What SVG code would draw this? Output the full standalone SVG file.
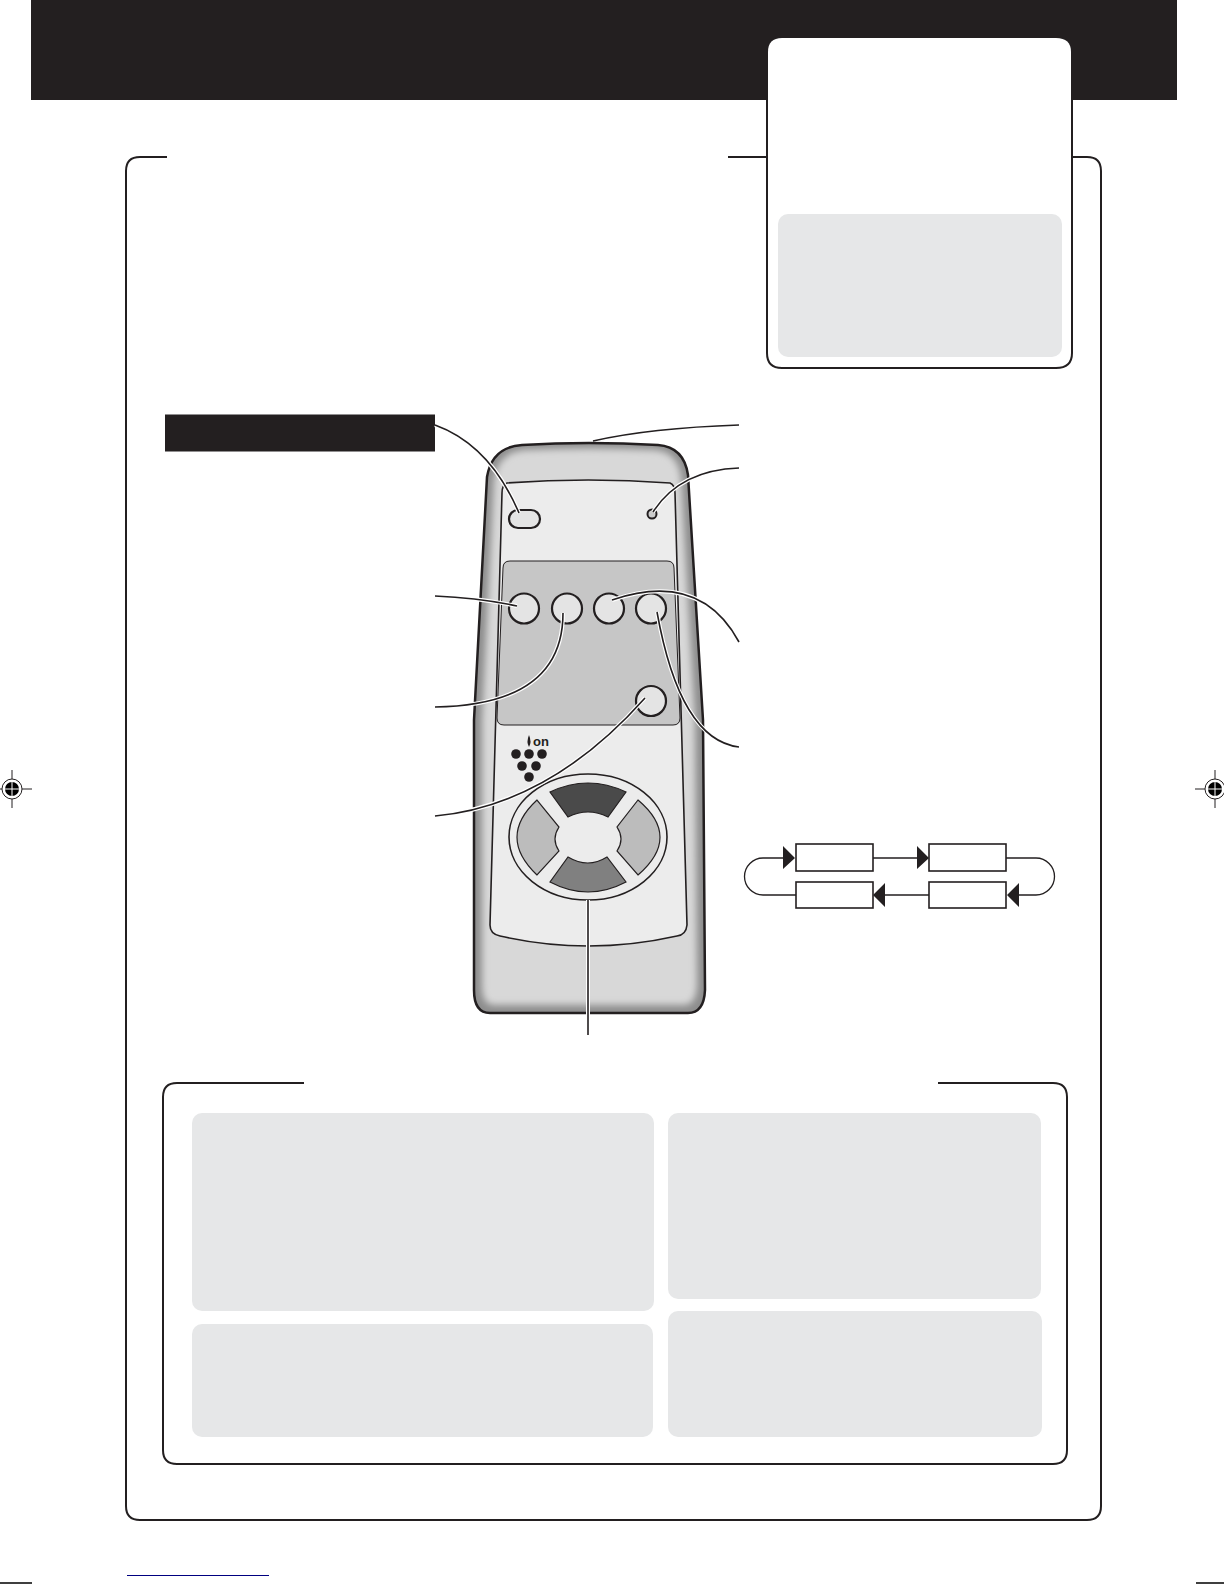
<svg xmlns="http://www.w3.org/2000/svg" width="1224" height="1584" viewBox="0 0 1224 1584">
<style>
.frame{fill:none;stroke:#231f20;stroke-width:2}
.panel{fill:#e6e7e8}
.leadw{fill:none;stroke:#fff;stroke-width:4}
.lead{fill:none;stroke:#231f20;stroke-width:1.6}
.btn{fill:#e4e4e4;stroke:#231f20;stroke-width:2.2}
.btns{fill:none;stroke:#8a8a8a;stroke-width:2}
.box{fill:#fff;stroke:#231f20;stroke-width:1.6}
.ln{fill:none;stroke:#231f20;stroke-width:1.3}
.arr{fill:#231f20}
.dot{fill:#231f20}
</style>
<defs>
<filter id="soft" x="-10%" y="-10%" width="120%" height="120%"><feGaussianBlur stdDeviation="3.500"/></filter>
<clipPath id="bodyclip"><path d="M474 720L487 477Q492 447 522 445Q588 441 658 445Q684 447 688 475L703 720L705 990Q704 1013 688 1013H490Q474 1013 474 990Z"/></clipPath>
<g id="reg"><circle r="10" fill="#fff" stroke="#231f20" stroke-width="1"/><circle r="7" fill="#000"/><path d="M-7 0H7M0-7V7" stroke="#fff" stroke-width="1"/></g>
</defs>
<rect width="1224" height="1584" fill="#fff"/>
<g id="header"><rect x="31" y="0" width="1146" height="100" fill="#231f20"/></g>
<g id="main-frame"><path class="frame" d="M167 157H140Q126 157 126 171V1506Q126 1520 140 1520H1087Q1101 1520 1101 1506V171Q1101 157 1087 157H1073M767 157H728"/></g>
<g id="note-box"><path d="M768 52Q768 38 782 38H1056Q1071 38 1071 52V100H768Z" fill="#fff"/><path d="M767 100V353Q767 368 782 368H1056Q1072 368 1072 353V100" fill="#fff" stroke="#231f20" stroke-width="2"/><rect class="panel" x="778" y="214" width="284" height="143" rx="10"/></g>
<g id="black-label"><rect x="165" y="414.500" width="270" height="37" fill="#231f20"/></g>
<g id="remote">
<path d="M474 720L487 477Q492 447 522 445Q588 441 658 445Q684 447 688 475L703 720L705 990Q704 1013 688 1013H490Q474 1013 474 990Z" fill="#8d8d8d"/>
<g clip-path="url(#bodyclip)"><path d="M482 720L494 480Q498 452 525 450Q588 447 655 450Q678 452 681 478L695 720L697 985Q696 1005 684 1005H494Q482 1005 482 985Z" fill="#d8d8d8" filter="url(#soft)"/></g>
<path d="M474 720L487 477Q492 447 522 445Q588 441 658 445Q684 447 688 475L703 720L705 990Q704 1013 688 1013H490Q474 1013 474 990Z" fill="none" stroke="#231f20" stroke-width="2.5"/>
<path d="M507 483Q588 477 670 483Q675 485 675 493L687 925Q686 935 677 936Q588 956 500 936Q490 934 490 925L502 493Q502 485 507 483Z" fill="#ececec" stroke="#231f20" stroke-width="1.6"/>
<rect x="509" y="510" width="31" height="18" rx="9" class="btn"/>
<circle cx="652" cy="514" r="4.500" fill="#ccc" stroke="#231f20" stroke-width="2"/>
<path d="M510 561H667Q674 561 674 568L680 718Q680 725 673 725H504Q497 725 497 718L503 568Q503 561 510 561Z" fill="#c6c6c6" stroke="#231f20" stroke-width="1"/>
<circle class="btn" cx="524" cy="608.500" r="15"/><circle class="btn" cx="567" cy="608.500" r="15"/><circle class="btn" cx="609" cy="608.500" r="15"/><circle class="btn" cx="651" cy="608.500" r="15"/><circle class="btn" cx="651" cy="701" r="15"/>
<path class="dot" d="M529 735Q532 742 529 747Q526 742 529 735Z"/>
<text x="533" y="746" font-family="Liberation Sans, sans-serif" font-size="13" font-weight="bold" fill="#231f20">on</text>
<circle class="dot" cx="516" cy="754" r="4.800"/><circle class="dot" cx="529" cy="754" r="4.800"/><circle class="dot" cx="542" cy="754" r="4.800"/><circle class="dot" cx="522" cy="766" r="4.800"/><circle class="dot" cx="536" cy="766" r="4.800"/><circle class="dot" cx="529" cy="777" r="4.800"/>
<ellipse cx="588" cy="837" rx="79" ry="63" fill="#ececec" stroke="#231f20" stroke-width="1.6"/>
<path d="M550 792Q588 774 626 792L608 817Q588 807 568 817Z" fill="#4a4a4a" stroke="#231f20" stroke-width="1.2"/>
<path d="M550 882Q588 902 626 882L607 857Q588 869 568 857Z" fill="#808080" stroke="#231f20" stroke-width="1.2"/>
<path d="M537 800Q497 837 537 875L559 851Q551 839 559 827Z" fill="#bcbcbc" stroke="#231f20" stroke-width="1.2"/>
<path d="M638 800Q682 837 638 875L617 851Q625 839 617 827Z" fill="#bcbcbc" stroke="#231f20" stroke-width="1.2"/>
</g>
<g id="connectors">
<path class="leadw" d="M435 596Q480 598 517 606M435 707Q563 705 563 613M435 816Q550 805 645 698M739 642Q700 570 612 600M739 747Q680 740 657 612M588 900V1035"/>
<path class="leadw" d="M435 425Q490 445 519 513M739 468Q680 470 653 512"/>
<path class="lead" d="M435 425Q490 445 519 513M739 425Q650 428 593 441M739 468Q680 470 653 512M435 596Q480 598 517 606M435 707Q563 705 563 613M435 816Q550 805 645 698M739 642Q700 570 612 600M739 747Q680 740 657 612"/>
<path class="lead" d="M588 900V1035" stroke-width="2"/>
</g>
<g id="mode-cycle">
<path class="ln" d="M873 858H917M1006 858H1036A18.500 18.500 0 0 1 1036 895H1019M929 895H885M796 895H763A18.500 18.500 0 0 1 763 858H783"/>
<rect class="box" x="796" y="844" width="77" height="27"/><rect class="box" x="929" y="844" width="77" height="27"/><rect class="box" x="796" y="882" width="77" height="26"/><rect class="box" x="929" y="882" width="77" height="26"/>
<path class="arr" d="M783 846L795 858L783 869ZM917 846L929 858L917 869ZM1019 883L1007 895L1019 907ZM885 883L873 895L885 907Z"/>
</g>
<g id="tips-frame"><path class="frame" d="M304 1083H177Q163 1083 163 1097V1450Q163 1464 177 1464H1053Q1067 1464 1067 1450V1097Q1067 1083 1053 1083H938"/>
<rect class="panel" x="192" y="1113" width="462" height="198" rx="10"/><rect class="panel" x="192" y="1324" width="461" height="113" rx="10"/><rect class="panel" x="668" y="1113" width="373" height="186" rx="10"/><rect class="panel" x="668" y="1311" width="374" height="126" rx="10"/></g>
<g id="print-marks">
<use href="#reg" x="12" y="789"/><path d="M0 789H2M22 789H32M12 770V779M12 799V808" stroke="#231f20" stroke-width="1"/>
<use href="#reg" x="1215" y="789"/><path d="M1195 789H1205M1215 770V779M1215 799V808" stroke="#231f20" stroke-width="1"/>
<path d="M127 1575.500H269" stroke="#000080" stroke-width="1"/>
<path d="M0 1583H32M1196 1583H1224" stroke="#000" stroke-width="1.500"/>
</g>
</svg>
